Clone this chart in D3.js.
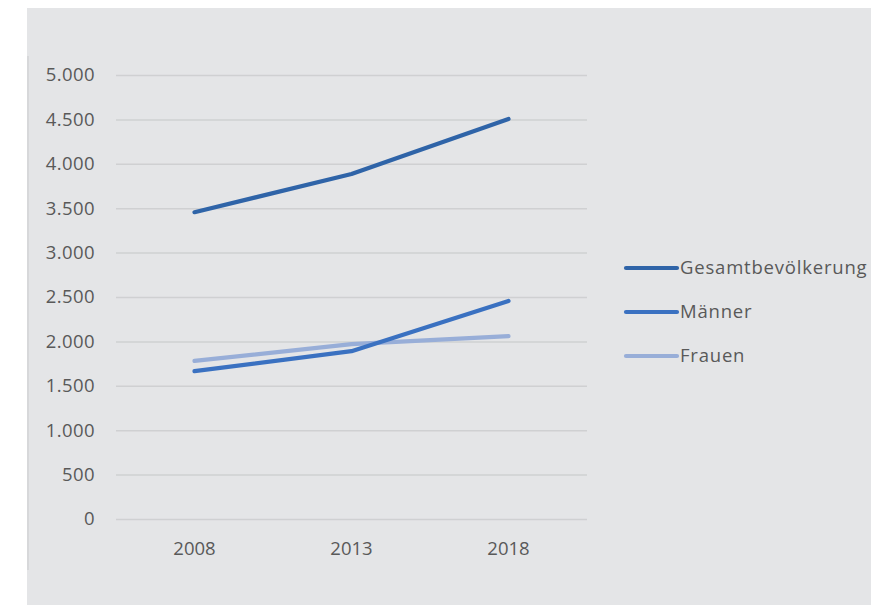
<!DOCTYPE html>
<html>
<head>
<meta charset="utf-8">
<script src="https://cdn.jsdelivr.net/npm/d3@7"></script>
<style>
html,body{margin:0;padding:0;background:#ffffff;}
svg{display:block;}
text{font-family:"Open Sans",sans-serif;fill:#595959;}
</style>
</head>
<body>
<svg id="chart" width="871" height="607"></svg>
<script>
const categories = ["2008", "2013", "2018"];
const seriesNames = ["Gesamtbevölkerung", "Männer", "Frauen"];
const gesamt = [3455, 3885, 4505];
const maenner = [1665, 1890, 2455];
const frauen = [1780, 1970, 2060];
const yTicks = [0, 500, 1000, 1500, 2000, 2500, 3000, 3500, 4000, 4500, 5000];
const colors = ["#2f64a8", "#3a71c1", "#98aed8"];

const series = [gesamt, maenner, frauen];
const svg = d3.select("#chart");

// panel background
svg.append("rect").attr("x", 27).attr("y", 8).attr("width", 844).attr("height", 597).attr("fill", "#e4e5e7");
svg.append("rect").attr("x", 27).attr("y", 56).attr("width", 2).attr("height", 514).attr("fill", "#d7d8da");

const x = d3.scaleBand().domain(categories).range([116, 587]);
const y = d3.scaleLinear().domain([0, 5000]).range([519, 75]);

const fmt = d3.formatLocale({decimal: ",", thousands: ".", grouping: [3], currency: ["", "€"]}).format(",d");

// gridlines
const yAxis = d3.axisLeft(y).tickValues(yTicks).tickSize(-(587 - 116)).tickPadding(21).tickFormat(fmt);
const gy = svg.append("g").attr("transform", "translate(116,0)").call(yAxis);
gy.select(".domain").remove();
gy.selectAll(".tick line").attr("stroke", "#cfd0d2").attr("stroke-width", 1.5);
gy.selectAll(".tick text").attr("font-size", "18.5px").style("font-family", '"Open Sans",sans-serif')
  .style("letter-spacing", "0.4px").attr("fill", "#595959");

const xAxis = d3.axisBottom(x).tickSize(0).tickPadding(23);
const gx = svg.append("g").attr("transform", "translate(0,519)").call(xAxis);
gx.select(".domain").remove();
gx.selectAll(".tick text").attr("font-size", "18.5px").style("font-family", '"Open Sans",sans-serif').attr("fill", "#595959");

const line = d3.line().x((d, i) => x(categories[i]) + x.bandwidth() / 2).y(d => y(d));

const order = [2, 1, 0];
order.forEach(k => {
  svg.append("path").datum(series[k]).attr("d", line)
    .attr("fill", "none").attr("stroke", colors[k]).attr("stroke-width", 4.2)
    .attr("stroke-linecap", "round").attr("stroke-linejoin", "round");
});

// legend
const legY = d3.scalePoint().domain(seriesNames).range([268, 356]);
const leg = svg.append("g");
seriesNames.forEach((name, k) => {
  const ly = legY(name);
  leg.append("line").attr("x1", 626).attr("x2", 677).attr("y1", ly).attr("y2", ly)
    .attr("stroke", colors[k]).attr("stroke-width", 4.2).attr("stroke-linecap", "round");
  leg.append("text").attr("x", 680).attr("y", ly).attr("dy", "0.35em")
    .attr("font-size", "18.5px").style("letter-spacing", "0.8px").text(name);
});
</script>
</body>
</html>
